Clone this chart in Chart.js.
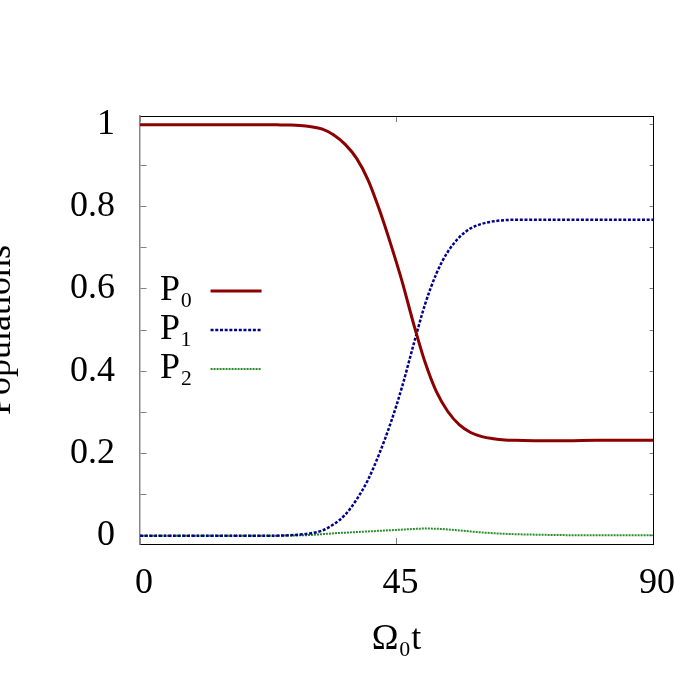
<!DOCTYPE html>
<html>
<head>
<meta charset="utf-8">
<script src="https://cdn.jsdelivr.net/npm/chart.js@4/dist/chart.umd.min.js"></script>
<style>
  html, body { margin: 0; padding: 0; background: #ffffff; }
  canvas { display: block; }
</style>
</head>
<body>
<canvas id="c" width="700" height="700"></canvas>
<script>
// ---- data ----
const times = [0, 5, 10, 15, 20, 22, 24, 26, 28, 30, 32, 34, 36, 38, 40, 42, 44, 46, 48, 50, 52, 54, 56, 58, 60, 62, 64, 66, 70, 75, 80, 85, 90];
const p0 = [0.999, 0.999, 0.999, 0.999, 0.999, 0.999, 0.9985, 0.998, 0.997, 0.994, 0.988, 0.974, 0.951, 0.917, 0.865, 0.792, 0.708, 0.617, 0.515, 0.422, 0.350, 0.302, 0.270, 0.251, 0.241, 0.236, 0.233, 0.232, 0.231, 0.231, 0.232, 0.232, 0.232];
const p1 = [0.000, 0.000, 0.000, 0.000, 0.000, 0.000, 0.0003, 0.001, 0.003, 0.006, 0.013, 0.028, 0.051, 0.088, 0.136, 0.200, 0.275, 0.363, 0.465, 0.562, 0.637, 0.690, 0.725, 0.747, 0.758, 0.764, 0.767, 0.768, 0.768, 0.768, 0.768, 0.768, 0.768];
const p2 = [0.000, 0.000, 0.000, 0.000, 0.000, 0.000, 0.0002, 0.0005, 0.001, 0.002, 0.004, 0.006, 0.0075, 0.009, 0.0105, 0.012, 0.0135, 0.015, 0.0165, 0.0175, 0.017, 0.0155, 0.013, 0.0105, 0.008, 0.0062, 0.0048, 0.0038, 0.0025, 0.0015, 0.001, 0.001, 0.001];
const seriesNames = ['P\u2080', 'P\u2081', 'P\u2082'];
const xTickValues = [0, 45, 90];
const xTickLabels = ['0', '45', '90'];
const yTickValues = [0, 0.1, 0.2, 0.3, 0.4, 0.5, 0.6, 0.7, 0.8, 0.9, 1.0];
const yTickLabels = ['0', '', '0.2', '', '0.4', '', '0.6', '', '0.8', '', '1'];
const xTitle = '\u03A9\u2080t';
const yTitle = 'Populations';

const FONT = "'Liberation Serif', 'Times New Roman', serif";
const toPts = (ys) => times.map((t, i) => ({ x: t, y: ys[i] }));

// The vertical 'chartArea' legend gets top=0 from Chart.js; pin it to the plot area.
const legendPlacement = {
  id: 'legendPlacement',
  afterLayout(chart) {
    const lg = chart.legend;
    if (!lg) return;
    const a = chart.chartArea;
    lg.top = a.top;
    lg.bottom = a.bottom;
    lg.left = a.left + 10;
    lg.right = lg.left + lg.width;
  }
};

new Chart(document.getElementById('c'), {
  type: 'line',
  data: {
    datasets: [
      { label: seriesNames[0], data: toPts(p0), borderColor: '#8b0000', borderWidth: 3,
        pointRadius: 0, cubicInterpolationMode: 'monotone', fill: false },
      { label: seriesNames[1], data: toPts(p1), borderColor: '#00008b', borderWidth: 2.5,
        borderDash: [3, 1.7], pointRadius: 0, cubicInterpolationMode: 'monotone', fill: false },
      { label: seriesNames[2], data: toPts(p2), borderColor: '#2a8c2a', borderWidth: 2,
        borderDash: [2, 1], pointRadius: 0, cubicInterpolationMode: 'monotone', fill: false }
    ]
  },
  plugins: [legendPlacement],
  options: {
    responsive: false,
    animation: false,
    events: [],
    layout: { padding: { left: 0, right: 47, top: 116, bottom: 0 } },
    plugins: {
      tooltip: { enabled: false },
      legend: {
        position: 'chartArea',
        align: 'center',
        rtl: true,
        labels: {
          usePointStyle: true,
          pointStyle: 'line',
          pointStyleWidth: 51,
          padding: 3,
          color: '#000',
          font: { family: FONT, size: 36, lineHeight: 1 },
          generateLabels(chart) {
            const items = Chart.defaults.plugins.legend.labels.generateLabels(chart);
            items.forEach((it) => {
              const ds = chart.data.datasets[it.datasetIndex];
              it.lineDash = ds.borderDash || [];
              it.lineWidth = ds.borderWidth;
              it.strokeStyle = ds.borderColor;
              it.pointStyle = 'line';
            });
            return items;
          }
        }
      }
    },
    scales: {
      x: {
        type: 'linear', position: 'bottom', min: 0, max: 90,
        afterBuildTicks: (s) => { s.ticks = xTickValues.map(v => ({ value: v })); },
        afterFit: (s) => { s.height = 156; },
        ticks: {
          autoSkip: false, maxRotation: 0, padding: 22, labelOffset: 4, color: '#000',
          font: { family: FONT, size: 36, lineHeight: 1 },
          callback: (v, i) => xTickLabels[i]
        },
        grid: { color: '#808080', lineWidth: 1, drawTicks: false, drawOnChartArea: true },
        border: { display: true, color: '#000', width: 1, dash: [6, 416, 6, 2000] },
        title: { display: true, text: xTitle, color: '#000',
          font: { family: FONT, size: 36, lineHeight: 1 }, padding: { top: 0, bottom: 42 } }
      },
      x2: {
        type: 'linear', position: 'top', min: 0, max: 90,
        afterFit: (s) => { s.height = 0; },
        ticks: { display: false },
        grid: { drawOnChartArea: false, drawTicks: false },
        border: { display: true, color: '#000', width: 1 }
      },
      y: {
        type: 'linear', position: 'left', min: -0.02, max: 1.02,
        afterBuildTicks: (s) => { s.ticks = yTickValues.map(v => ({ value: v })); },
        afterFit: (s) => { s.width = 140; },
        ticks: {
          autoSkip: false, padding: 25, color: '#000',
          font: { family: FONT, size: 36, lineHeight: 1 },
          callback: (v, i) => yTickLabels[i]
        },
        grid: { color: '#808080', lineWidth: 1, drawTicks: false, drawOnChartArea: true },
        border: { display: true, color: '#888888', width: 1.5, dash: [6, 503, 4, 2000] },
        title: { display: true, text: yTitle, color: '#000',
          font: { family: FONT, size: 36, lineHeight: 1 }, padding: { top: -17, bottom: 0 } }
      },
      y2: {
        type: 'linear', position: 'right', min: -0.02, max: 1.02,
        afterFit: (s) => { s.width = 0; },
        ticks: { display: false },
        grid: { drawOnChartArea: false, drawTicks: false },
        border: { display: true, color: '#000', width: 1 }
      }
    }
  }
});
</script>
</body>
</html>
